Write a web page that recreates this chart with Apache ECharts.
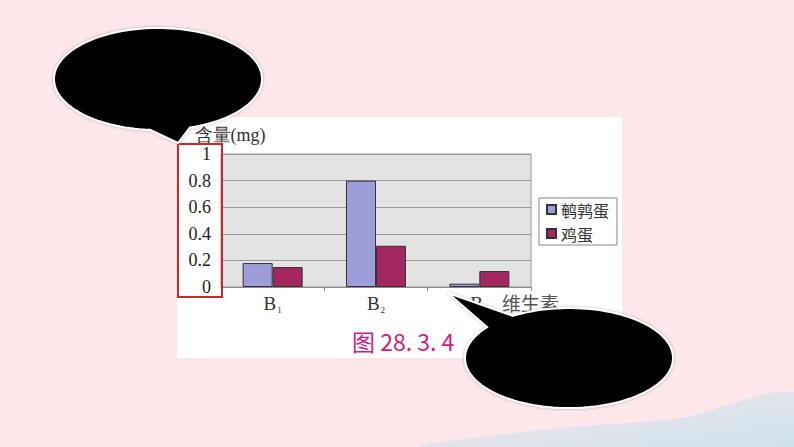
<!DOCTYPE html>
<html>
<head>
<meta charset="utf-8">
<script src="https://cdn.jsdelivr.net/npm/echarts@6/dist/echarts.min.js"></script>
<style>
html,body{margin:0;padding:0;background:#fde7eb;}
#c{width:794px;height:447px;}
</style>
</head>
<body>
<div id="c"></div>
<script>
// ---- data ----
const categories = ['B1', 'B2', 'B3'];
const seriesNames = ['鹌鹑蛋', '鸡蛋'];
const quailEgg = [0.18, 0.80, 0.025];
const chickenEgg = [0.15, 0.31, 0.12];
const yTicks = [0, 0.2, 0.4, 0.6, 0.8, 1];
const yAxisTitle = '含量(mg)';
const xAxisTitle = '维生素';
const caption = '图 28. 3. 4';

const chart = echarts.init(document.getElementById('c'), null, {renderer: 'svg'});
const serif = '"Liberation Serif","Times New Roman",serif';
const cjk = '"Noto Sans CJK SC","Noto Sans",sans-serif';

// speech-bubble outline (decoration): ellipse with a tail
function bubble(cx, cy, rx, ry, t0, t1, tip) {
  const pts = [];
  const a0 = t1 * Math.PI / 180, a1 = (t0 + 360) * Math.PI / 180;
  const n = 120;
  for (let i = 0; i <= n; i++) {
    const a = a0 + (a1 - a0) * i / n;
    pts.push([cx + rx * Math.cos(a), cy + ry * Math.sin(a)]);
  }
  pts.push(tip);
  return pts;
}
const bubble1 = bubble(158, 79, 104, 51, 72.1, 94.4, [178, 143]);
const bubble2 = bubble(569, 358, 104, 50, 218.0, 237.4, [448, 293]);

chart.setOption({
  backgroundColor: '#fde7eb',
  animation: false,
  title: {
    text: caption,
    left: 347, top: 324,
    textStyle: {color: '#d81b7e', fontSize: 23, fontWeight: 'normal',
      fontFamily: '"Liberation Sans Narrow","Noto Sans CJK SC",sans-serif'}
  },
  legend: {
    orient: 'vertical',
    left: 539, top: 198,
    padding: [3, 8, 3, 7],
    itemGap: 7,
    itemWidth: 9, itemHeight: 9,
    icon: 'rect',
    borderColor: '#888', borderWidth: 1,
    backgroundColor: '#fff',
    textStyle: {fontSize: 16, lineHeight: 17, color: '#333', fontFamily: cjk},
    data: seriesNames
  },
  grid: {
    left: 221, right: 263, top: 154, bottom: 160,
    show: true, backgroundColor: '#e3e3e3', borderColor: '#9a9a9a', borderWidth: 1
  },
  xAxis: {
    type: 'category',
    data: categories,
    name: xAxisTitle,
    nameLocation: 'end',
    nameGap: -29,
    nameTextStyle: {fontSize: 19, color: '#555', fontFamily: cjk, verticalAlign: 'top', padding: [6, 0, 0, 0]},
    axisLine: {lineStyle: {color: '#8a8a8a', width: 1}},
    axisTick: {show: true, length: 4, lineStyle: {color: '#8a8a8a'}},
    axisLabel: {
      margin: 7,
      formatter: v => '{b|' + v.charAt(0) + '}{s|' + v.slice(1) + '}',
      rich: {
        b: {fontSize: 19, color: '#333', fontFamily: serif, verticalAlign: 'bottom'},
        s: {fontSize: 9, color: '#333', fontFamily: serif, verticalAlign: 'bottom', padding: [0,0,-1,1]}
      }
    }
  },
  yAxis: {
    type: 'value',
    min: yTicks[0], max: yTicks[yTicks.length - 1], interval: 0.2,
    name: yAxisTitle,
    nameLocation: 'end',
    nameGap: 10,
    nameTextStyle: {fontSize: 18, color: '#333', fontFamily: serif, padding: [0, 0, 0, 18]},
    axisLine: {show: true, lineStyle: {color: '#8a8a8a'}},
    axisTick: {show: false},
    axisLabel: {margin: 10, fontSize: 18, color: '#222', fontFamily: serif,
      formatter: v => String(Math.round(v * 10) / 10)},
    splitLine: {lineStyle: {color: '#9a9a9a', width: 1}}
  },
  series: [
    {name: seriesNames[0], type: 'bar', data: quailEgg, barWidth: 30, barGap: '0%',
     itemStyle: {color: '#9d9ed9', borderColor: '#333', borderWidth: 1}},
    {name: seriesNames[1], type: 'bar', data: chickenEgg, barWidth: 30, barGap: '0%',
     itemStyle: {color: '#a3285f', borderColor: '#333', borderWidth: 1}}
  ],
  graphic: [
    {type: 'polygon', z: -100, silent: true,
     shape: {points: [[420, 447], [560, 428], [680, 418], [794, 392], [794, 447]], smooth: 0.3},
     style: {fill: {type: 'linear', x: 0, y: 0, x2: 1, y2: 1, colorStops: [
       {offset: 0, color: '#fbe5ea'}, {offset: 1, color: '#c9e2ec'}]}}},
    {type: 'rect', z: -90, silent: true,
     shape: {x: 177, y: 117, width: 445, height: 241},
     style: {fill: '#ffffff'}},
    {type: 'rect', z: 50, silent: true,
     shape: {x: 178, y: 144, width: 44, height: 153},
     style: {fill: 'none', stroke: '#d9232a', lineWidth: 2}},
    {type: 'polygon', z: 100, silent: true,
     shape: {points: bubble1},
     style: {fill: '#000', stroke: '#fff', lineWidth: 2, shadowBlur: 3, shadowColor: 'rgba(0,0,0,0.3)'}},
    {type: 'polygon', z: 100, silent: true,
     shape: {points: bubble2},
     style: {fill: '#000', stroke: '#fff', lineWidth: 2, shadowBlur: 3, shadowColor: 'rgba(0,0,0,0.3)'}}
  ]
});
</script>
</body>
</html>
